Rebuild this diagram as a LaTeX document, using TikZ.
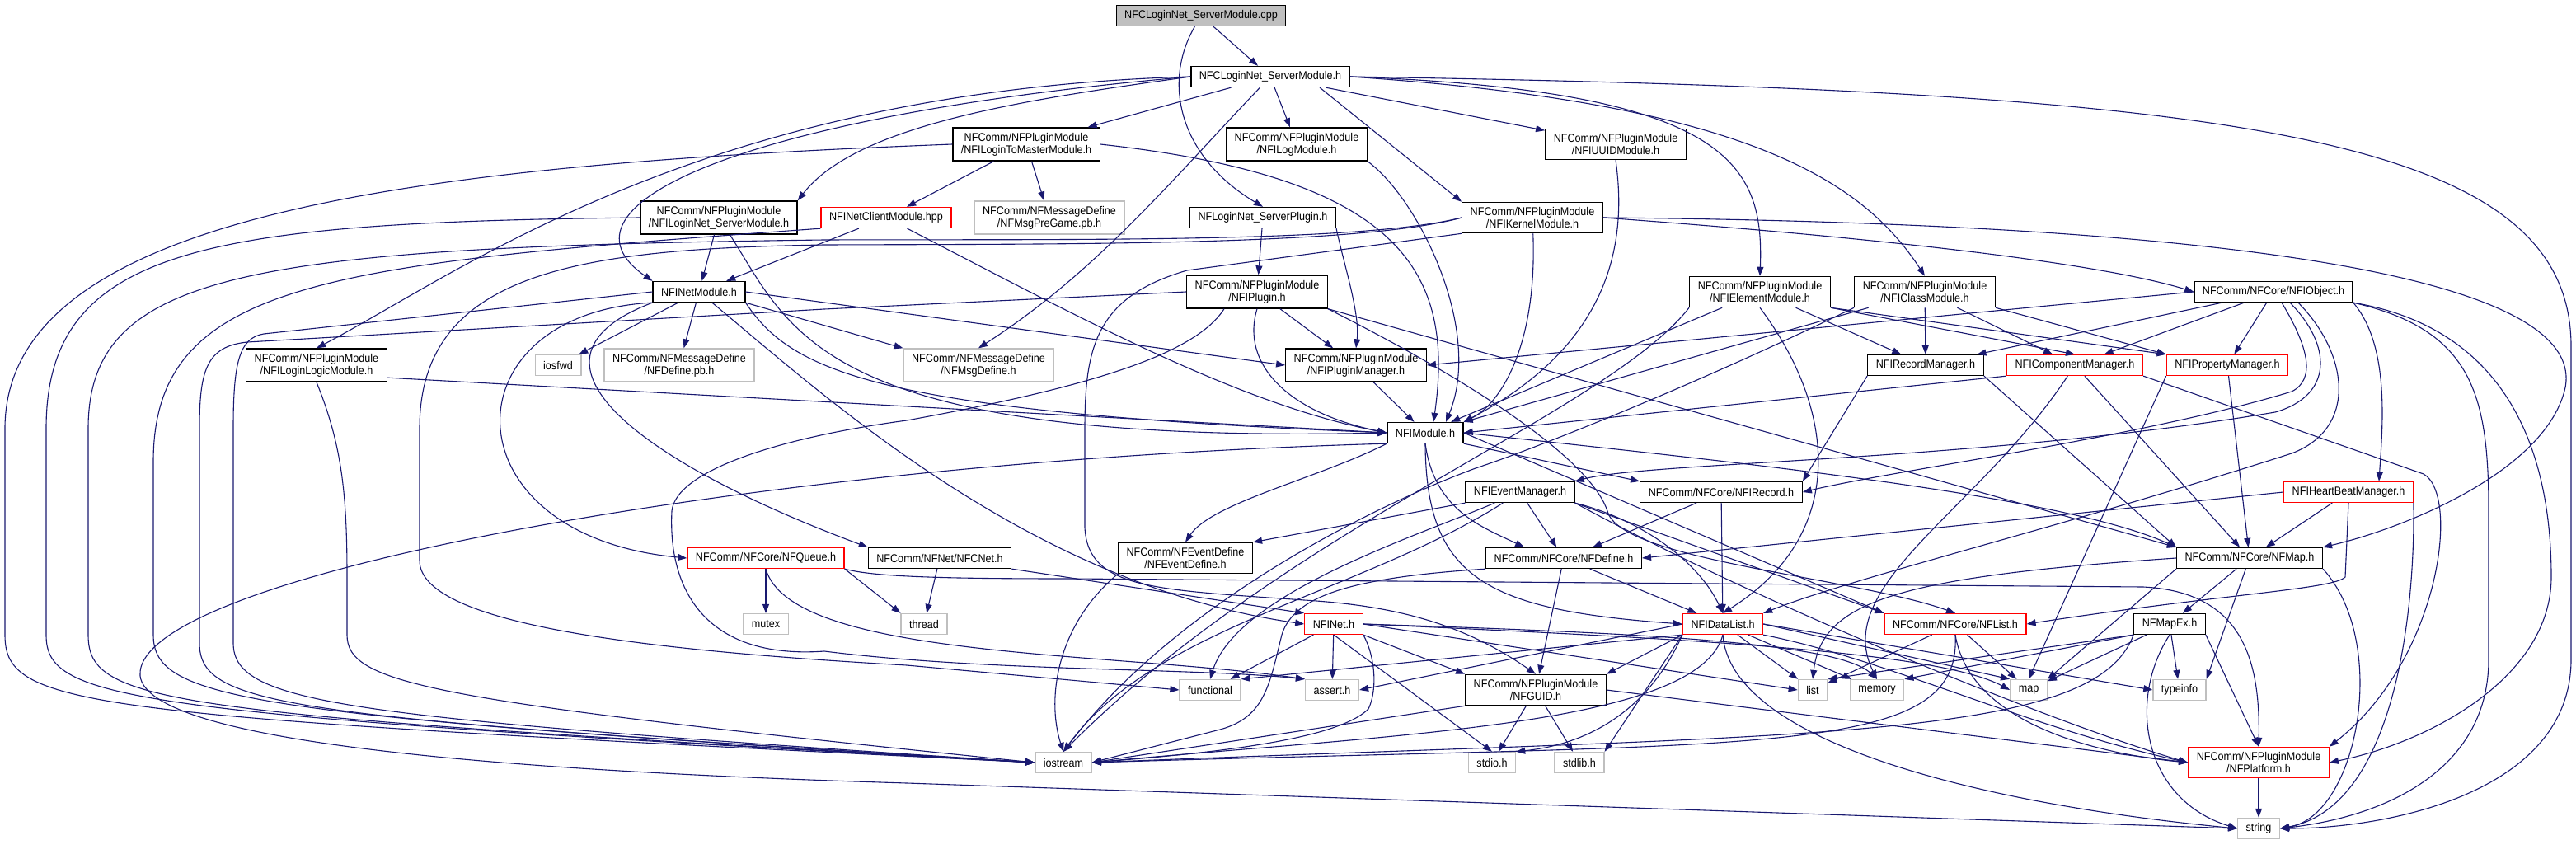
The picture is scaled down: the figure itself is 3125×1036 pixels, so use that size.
\documentclass[tikz,border=0pt]{standalone}
\usepackage{fontspec}
\setmainfont{Liberation Sans}[FakeStretch=0.9]
\usetikzlibrary{arrows.meta}
\definecolor{edgeblue}{HTML}{191970}
\definecolor{extgray}{HTML}{BFBFBF}
\begin{document}
\begin{tikzpicture}[x=1pt,y=-1pt,
  hdr/.style={draw=black,line width=1.3pt,fill=white,align=center,inner xsep=10pt,
    inner ysep=6pt,minimum height=25pt,font=\fontsize{14}{15}\selectfont},
  ext/.style={hdr,draw=extgray},
  cut/.style={hdr,draw=red},
  inc/.style={draw=edgeblue,line width=1.1pt,-{Triangle[length=11pt,width=8pt]}}]
 \useasboundingbox (0,0) rectangle (3125,1036);
 \node[hdr,fill=extgray] (cpp) at (1457,19) {NFCLoginNet\_ServerModule.cpp};
 \node[hdr] (srvh) at (1541,93) {NFCLoginNet\_ServerModule.h};
 \node[hdr] (tomaster) at (1245,175) {NFComm/NFPluginModule\\/NFILoginToMasterModule.h};
 \node[hdr] (logm) at (1573,175) {NFComm/NFPluginModule\\/NFILogModule.h};
 \node[hdr] (uuid) at (1960,175) {NFComm/NFPluginModule\\/NFIUUIDModule.h};
 \node[hdr] (ilogin) at (872,264) {NFComm/NFPluginModule\\/NFILoginNet\_ServerModule.h};
 \node[cut] (netclient) at (1075,264) {NFINetClientModule.hpp};
 \node[ext] (pregame) at (1273,264) {NFComm/NFMessageDefine\\/NFMsgPreGame.pb.h};
 \node[hdr] (plugin) at (1532,264) {NFLoginNet\_ServerPlugin.h};
 \node[hdr] (kernel) at (1859,264) {NFComm/NFPluginModule\\/NFIKernelModule.h};
 \node[hdr] (netmod) at (848,354) {NFINetModule.h};
 \node[hdr] (iplugin) at (1525,354) {NFComm/NFPluginModule\\/NFIPlugin.h};
 \node[hdr] (elem) at (2135,354) {NFComm/NFPluginModule\\/NFIElementModule.h};
 \node[hdr] (cls) at (2335,354) {NFComm/NFPluginModule\\/NFIClassModule.h};
 \node[hdr] (obj) at (2758,354) {NFComm/NFCore/NFIObject.h};
 \node[hdr] (logic) at (384,443) {NFComm/NFPluginModule\\/NFILoginLogicModule.h};
 \node[ext] (iosfwd) at (677,443) {iosfwd};
 \node[ext] (definepb) at (824,443) {NFComm/NFMessageDefine\\/NFDefine.pb.h};
 \node[ext] (msgdef) at (1187,443) {NFComm/NFMessageDefine\\/NFMsgDefine.h};
 \node[hdr] (pluginmgr) at (1645,443) {NFComm/NFPluginModule\\/NFIPluginManager.h};
 \node[hdr] (recmgr) at (2336,443) {NFIRecordManager.h};
 \node[cut] (compmgr) at (2517,443) {NFIComponentManager.h};
 \node[cut] (propmgr) at (2702,443) {NFIPropertyManager.h};
 \node[hdr] (module) at (1729,525) {NFIModule.h};
 \node[hdr] (evmgr) at (1844,597) {NFIEventManager.h};
 \node[hdr] (irecord) at (2088,597) {NFComm/NFCore/NFIRecord.h};
 \node[cut] (heartbeat) at (2849,597) {NFIHeartBeatManager.h};
 \node[cut] (queue) at (929,677) {NFComm/NFCore/NFQueue.h};
 \node[hdr] (cnet) at (1140,677) {NFComm/NFNet/NFCNet.h};
 \node[hdr] (evdef) at (1438,677) {NFComm/NFEventDefine\\/NFEventDefine.h};
 \node[hdr] (nfdefine) at (1897,677) {NFComm/NFCore/NFDefine.h};
 \node[hdr] (nfmap) at (2729,677) {NFComm/NFCore/NFMap.h};
 \node[ext] (mutex) at (929,757) {mutex};
 \node[ext] (thread) at (1121,757) {thread};
 \node[cut] (inet) at (1618,757) {NFINet.h};
 \node[cut] (datalist) at (2090,757) {NFIDataList.h};
 \node[cut] (nflist) at (2372,757) {NFComm/NFCore/NFList.h};
 \node[hdr] (mapex) at (2632,757) {NFMapEx.h};
 \node[ext] (functional) at (1468,837) {functional};
 \node[ext] (assert) at (1616,837) {assert.h};
 \node[hdr] (guid) at (1863,837) {NFComm/NFPluginModule\\/NFGUID.h};
 \node[ext] (list) at (2199,837) {list};
 \node[ext] (memory) at (2277,837) {memory};
 \node[ext] (stlmap) at (2461,837) {map};
 \node[ext] (typeinfo) at (2644,837) {typeinfo};
 \node[ext] (iostream) at (1290,925) {iostream};
 \node[ext] (stdio) at (1810,925) {stdio.h};
 \node[ext] (stdlib) at (1916,925) {stdlib.h};
 \node[cut] (platform) at (2740,925) {NFComm/NFPluginModule\\/NFPlatform.h};
 \node[ext] (string) at (2740,1005) {string};
 \draw[inc] (cpp) -- (srvh);
 \draw[inc] (cpp) .. controls (1410,100) and (1430,190) .. (plugin.north);
 \draw[inc] (srvh) -- (tomaster);
 \draw[inc] (srvh) -- (logm);
 \draw[inc] (srvh) -- (uuid);
 \draw[inc] ([xshift=60pt]srvh.south) -- (kernel.north west);
 \draw[inc] (srvh.west) .. controls (1250,120) and (1040,150) .. (ilogin.north east);
 \draw[inc] (srvh.west) .. controls (900,140) and (660,250) .. (netmod.north west);
 \draw[inc] (srvh.west) .. controls (850,110) and (560,330) .. (logic.north);
 \draw[inc] (srvh) .. controls (1420,220) and (1330,330) .. (msgdef.north);
 \draw[inc] (srvh.east) .. controls (2100,110) and (2140,200) .. (elem.north);
 \draw[inc] (srvh.east) .. controls (2120,125) and (2260,220) .. (cls.north);
 \draw[inc] (srvh.east) .. controls (2700,110) and (3119,160) .. (3119,420) -- (3119,800)
   .. controls (3119,960) and (2900,1005) .. (string.east);
 \draw[inc] (tomaster) -- (netclient);
 \draw[inc] (tomaster) -- (pregame);
 \draw[inc] (tomaster.east) .. controls (1700,215) and (1765,330) .. ([xshift=10pt]module.north);
 \draw[inc] (tomaster.west) .. controls (500,200) and (6,260) .. (6,520) -- (6,770)
   .. controls (6,860) and (100,868) .. (iostream.west);
 \draw[inc] (ilogin) -- (netmod);
 \draw[inc] (ilogin) .. controls (960,400) and (990,540) .. (module.west);
 \draw[inc] (ilogin.west) .. controls (250,270) and (56,300) .. (56,520) -- (56,770)
   .. controls (56,850) and (150,866) .. (iostream.west);
 \draw[inc] (netclient) -- (netmod);
 \draw[inc] (netclient) .. controls (1300,380) and (1500,490) .. (module.west);
 \draw[inc] (netclient.south west) .. controls (400,320) and (186,340) .. (186,560) -- (186,770)
   .. controls (186,850) and (300,868) .. (iostream.west);
 \draw[inc] (plugin) -- (iplugin);
 \draw[inc] (plugin.south east) .. controls (1630,320) and (1650,380) .. (pluginmgr.north);
 \draw[inc] (kernel) .. controls (1865,420) and (1820,490) .. (module.north east);
 \draw[inc] (kernel.east) .. controls (2300,290) and (2550,320) .. (obj.west);
 \draw[inc] (kernel.east) .. controls (2600,270) and (3140,320) .. (3112,470)
   .. controls (3090,570) and (2920,640) .. (nfmap.north east);
 \draw[inc] (kernel.west) .. controls (1650,295) and (1300,290) .. (1000,291)
   .. controls (300,300) and (107,330) .. (107,520) -- (107,770)
   .. controls (107,855) and (200,866) .. (iostream.west);
 \draw[inc] (kernel.west) .. controls (1650,298) and (1300,296) .. (1000,297)
   .. controls (700,302) and (509,330) .. (509,520) -- (509,680)
   .. controls (509,760) and (800,790) .. (1100,807) -- (functional.west);
 \draw[inc] (kernel.south west) -- (1440,328) .. controls (1330,360) and (1316,420) .. (1316,520)
   -- (1316,640) .. controls (1320,715) and (1400,715) .. (1582,728)
   .. controls (1700,735) and (1780,760) .. (guid.north);
 \draw[inc] (logm.south east) .. controls (1720,240) and (1800,400) .. ([xshift=25pt]module.north);
 \draw[inc] (uuid.south) .. controls (1975,300) and (1950,420) .. (module.north east);
 \draw[inc] (netmod) -- (iosfwd);
 \draw[inc] (netmod) -- (definepb);
 \draw[inc] (netmod.south east) -- (msgdef.north west);
 \draw[inc] (netmod.east) -- (pluginmgr.west);
 \draw[inc] (netmod.south east) .. controls (960,450) and (1060,500) .. (module.west);
 \draw[inc] (netmod) .. controls (1000,480) and (1250,710) .. (inet.west);
 \draw[inc] (netmod.south west) .. controls (540,380) and (540,650) .. (queue.west);
 \draw[inc] (netmod.south west) .. controls (600,440) and (800,570) .. (cnet.north west);
 \draw[inc] (netmod.west) -- (320,405) .. controls (290,410) and (283,440) .. (283,520) -- (283,780)
   .. controls (283,855) and (420,870) .. (iostream.west);
 \draw[inc] (logic.-10) -- (module.west);
 \draw[inc] (logic.south) .. controls (415,540) and (421,600) .. (421,700) -- (421,770)
   .. controls (421,830) and (520,850) .. (iostream.west);
 \draw[inc] (iplugin) -- (pluginmgr);
 \draw[inc] (iplugin.south) .. controls (1505,440) and (1560,500) .. (module.west);
 \draw[inc] (iplugin.west) -- (1000,375) -- (300,415) .. controls (250,420) and (242,450) .. (242,520)
   -- (242,780) .. controls (242,858) and (350,870) .. (iostream.west);
 \draw[inc] ([xshift=-40pt]iplugin.south) .. controls (1450,430) and (1320,470) .. (1100,510)
   .. controls (950,530) and (820,570) .. (815,620) .. controls (810,720) and (860,800) .. (1000,790)
   .. controls (1200,815) and (1450,810) .. (assert.north west);
 \draw[inc] (iplugin.south east) -- (nfmap.north west);
 \draw[inc] (iplugin.south east) .. controls (1800,470) and (1930,560) .. (1950,620)
   .. controls (1965,680) and (2250,700) .. (nflist.north);
 \draw[inc] (pluginmgr) -- (module);
 \draw[inc] (elem) -- (module);
 \draw[inc] (elem) -- (recmgr);
 \draw[inc] (elem.south east) -- (compmgr.north);
 \draw[inc] (elem.south east) -- (propmgr.north west);
 \draw[inc] (elem.south) .. controls (2230,500) and (2240,650) .. (datalist.north);
 \draw[inc] (elem.south west) .. controls (1950,500) and (1560,640) .. (iostream.north);
 \draw[inc] (cls) -- (recmgr);
 \draw[inc] (cls) -- (compmgr);
 \draw[inc] (cls.south east) -- (propmgr.north west);
 \draw[inc] (cls) -- (module);
 \draw[inc] (cls.south west) .. controls (2050,470) and (1860,545) .. (1790,568)
   .. controls (1650,620) and (1420,740) .. (iostream.north);
 \draw[inc] (obj.west) -- (pluginmgr.east);
 \draw[inc] (obj) -- (recmgr);
 \draw[inc] (obj) -- (compmgr);
 \draw[inc] (obj) -- (propmgr);
 \draw[inc] (obj.south east) .. controls (2900,420) and (2890,520) .. ([xshift=37pt]heartbeat.north);
 \draw[inc] ([xshift=10pt]obj.south) .. controls (2800,420) and (2810,460) .. (2780,475)
   .. controls (2600,530) and (2300,570) .. (irecord.east);
 \draw[inc] ([xshift=20pt]obj.south) .. controls (2830,420) and (2830,480) .. (2760,500)
   .. controls (2400,560) and (2000,560) .. (evmgr.north east);
 \draw[inc] ([xshift=30pt]obj.south) .. controls (2850,430) and (2860,520) .. (2780,550)
   .. controls (2500,640) and (2250,700) .. (datalist.north east);
 \draw[inc] (obj.south east) .. controls (3000,400) and (3019,480) .. (3019,620) -- (3019,800)
   .. controls (3019,930) and (2900,990) .. (string.east);
 \draw[inc] (obj.south east) .. controls (3050,400) and (3095,560) .. (3095,700)
   .. controls (3095,820) and (2950,900) .. (platform.east);
 \draw[inc] (recmgr.south west) -- (irecord.north east);
 \draw[inc] (recmgr.south east) -- (nfmap.north west);
 \draw[inc] (compmgr.south west) -- (module.east);
 \draw[inc] (compmgr) -- (nfmap);
 \draw[inc] (compmgr) .. controls (2400,620) and (2220,710) .. (memory.north);
 \draw[inc] (compmgr.south east) -- (2940,575) .. controls (2985,600) and (2960,800) .. (platform.north east);
 \draw[inc] (propmgr) -- (nfmap);
 \draw[inc] (propmgr.south west) -- (stlmap.north);
 \draw[inc] (heartbeat) -- (nfmap);
 \draw[inc] (heartbeat.west) -- (nfdefine.east);
 \draw[inc] (heartbeat.south) -- (2845,700) .. controls (2830,715) and (2700,720) .. (nflist.east);
 \draw[inc] (heartbeat.south east) .. controls (2930,760) and (2900,980) .. (string.east);
 \draw[inc] (irecord) -- (datalist);
 \draw[inc] ([xshift=-30pt]irecord.south) -- ([xshift=35pt]nfdefine.north);
 \draw[inc] (evmgr.south west) -- (evdef.north east);
 \draw[inc] (evmgr) -- (nfdefine);
 \draw[inc] (evmgr.south east) .. controls (1990,630) and (2060,680) .. (datalist.north);
 \draw[inc] (evmgr.south east) -- (nflist.north west);
 \draw[inc] (evmgr) .. controls (1720,650) and (1500,720) .. (functional.north);
 \draw[inc] (evmgr) .. controls (1650,720) and (1400,760) .. (iostream.north);
 \draw[inc] (evmgr.south east) .. controls (2150,740) and (2500,880) .. (platform.west);
 \draw[inc] (nfdefine) -- (datalist);
 \draw[inc] (nfdefine) -- (guid);
 \draw[inc] (nfdefine.south west) .. controls (1650,700) and (1570,720) .. (1555,770)
   .. controls (1540,830) and (1535,870) .. (1480,885) -- (iostream.east);
 \draw[inc] (module.south west) .. controls (1600,580) and (1470,610) .. (evdef.north);
 \draw[inc] (module.south) .. controls (1740,620) and (1800,640) .. ([xshift=-48pt]nfdefine.north);
 \draw[inc] (module.south) .. controls (1730,700) and (1800,740) .. (datalist.west);
 \draw[inc] (module.south east) -- (irecord.north west);
 \draw[inc] (module.east) -- (nflist.north west);
 \draw[inc] (module.east) .. controls (2100,560) and (2500,600) .. (nfmap.north west);
 \draw[inc] (module.south west) .. controls (900,560) and (160,700) .. (170,820)
   .. controls (180,900) and (600,935) .. (1100,950) -- (string.west);
 \draw[inc] (datalist) -- (list);
 \draw[inc] (datalist) -- (memory);
 \draw[inc] (datalist.east) -- (stlmap.north west);
 \draw[inc] (datalist.east) -- (typeinfo.west);
 \draw[inc] (datalist.south east) .. controls (2290,800) and (2450,880) .. (platform.west);
 \draw[inc] (datalist.south) .. controls (2100,900) and (2400,975) .. (string.west);
 \draw[inc] (datalist.south west) -- (stdlib.north east);
 \draw[inc] (datalist.south west) .. controls (2010,840) and (1950,900) .. (stdio.north east);
 \draw[inc] (datalist.south) .. controls (2060,880) and (1700,890) .. (iostream.east);
 \draw[inc] (datalist.south west) -- (functional.north east);
 \draw[inc] (datalist.west) -- (assert.east);
 \draw[inc] (datalist.south west) -- (guid.north east);
 \draw[inc] (inet) -- (functional);
 \draw[inc] (inet) -- (assert);
 \draw[inc] (inet.south east) -- (guid.north west);
 \draw[inc] (inet.south) -- (stdio.north);
 \draw[inc] (inet.south east) .. controls (1670,800) and (1670,840) .. (1660,860)
   .. controls (1620,900) and (1450,915) .. (iostream.east);
 \draw[inc] (inet.east) -- (list.west);
 \draw[inc] (inet.east) .. controls (2000,768) and (2230,780) .. (memory.north);
 \draw[inc] (inet.east) .. controls (2050,775) and (2350,790) .. (stlmap.west);
 \draw[inc] (queue) -- (mutex);
 \draw[inc] (queue.south east) -- (thread.north west);
 \draw[inc] (queue.south) .. controls (960,800) and (1350,790) .. (assert.north west);
 \draw[inc] (queue.south east) .. controls (1060,700) and (1150,702) .. (1300,702) -- (2600,712)
   .. controls (2720,718) and (2742,800) .. (platform.north);
 \draw[inc] (cnet) -- (thread);
 \draw[inc] (cnet.south east) -- (inet.north west);
 \draw[inc] (evdef.south west) .. controls (1280,760) and (1270,850) .. (iostream.north);
 \draw[inc] (guid.south west) -- (iostream.east);
 \draw[inc] (guid) -- (stdio);
 \draw[inc] (guid) -- (stdlib);
 \draw[inc] (guid.east) -- (platform.west);
 \draw[inc] (nflist) -- (list);
 \draw[inc] (nflist) -- (stlmap);
 \draw[inc] (nflist.south) .. controls (2380,920) and (2150,900) .. (iostream.east);
 \draw[inc] (nflist.south) .. controls (2390,880) and (2550,915) .. (platform.west);
 \draw[inc] (mapex.south west) -- (list.north east);
 \draw[inc] (mapex.south west) -- (memory.north east);
 \draw[inc] (mapex) -- (stlmap);
 \draw[inc] (mapex) -- (typeinfo);
 \draw[inc] (mapex.south east) -- (platform.north);
 \draw[inc] (mapex.south) .. controls (2580,850) and (2600,970) .. (string.west);
 \draw[inc] (mapex.south west) .. controls (2540,900) and (2200,890) .. (iostream.east);
 \draw[inc] (nfmap) -- (mapex);
 \draw[inc] (nfmap.south west) -- (stlmap.north east);
 \draw[inc] (nfmap) -- (typeinfo.north east);
 \draw[inc] (nfmap.west) .. controls (2300,700) and (2210,730) .. (list.north);
 \draw[inc] (nfmap.south east) .. controls (2900,780) and (2860,990) .. (string.east);
 \draw[inc] (platform) -- (string);
\end{tikzpicture}
\end{document}
